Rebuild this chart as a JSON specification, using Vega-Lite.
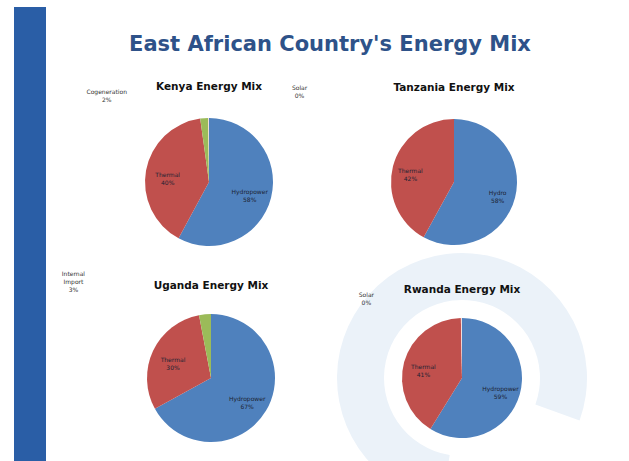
{
  "$schema": "https://vega.github.io/schema/vega-lite/v6.json",
  "background": "white",
  "padding": {"left": 14, "top": 7, "right": 0, "bottom": 0},
  "config": {"view": {"stroke": null}, "font": "DejaVu Sans"},
  "datasets": {
    "kenya": [
      {"source": "Hydropower", "kind": "hydro", "value": 58, "order": 1, "label": "Hydropower\n58%"},
      {"source": "Thermal", "kind": "thermal", "value": 40, "order": 2, "label": "Thermal\n40%"},
      {"source": "Cogeneration", "kind": "other", "value": 2, "order": 3, "label": "Cogeneration\n2%"},
      {"source": "Solar", "kind": "solar", "value": 0.2, "order": 4, "label": "Solar\n0%"}
    ],
    "tanzania": [
      {"source": "Hydro", "kind": "hydro", "value": 58, "order": 1, "label": "Hydro\n58%"},
      {"source": "Thermal", "kind": "thermal", "value": 42, "order": 2, "label": "Thermal\n42%"}
    ],
    "uganda": [
      {"source": "Hydropower", "kind": "hydro", "value": 67, "order": 1, "label": "Hydropower\n67%"},
      {"source": "Thermal", "kind": "thermal", "value": 30, "order": 2, "label": "Thermal\n30%"},
      {"source": "Import", "kind": "other", "value": 3, "order": 3, "label": "Internal\nImport\n3%"}
    ],
    "rwanda": [
      {"source": "Hydropower", "kind": "hydro", "value": 59, "order": 1, "label": "Hydropower\n59%"},
      {"source": "Thermal", "kind": "thermal", "value": 41, "order": 2, "label": "Thermal\n41%"},
      {"source": "Solar", "kind": "solar", "value": 0.3, "order": 3, "label": "Solar\n0%"}
    ],
    "bar": [{"name": "bar"}],
    "watermark": [{"name": "logo"}],
    "heading": [{"title": "East African Country's Energy Mix"}],
    "none": []
  },
  "bounds": "flush",
  "align": "each",
  "columns": 3,
  "spacing": {"row": 0, "column": 92},
  "concat": [
    {"data": {"name": "bar"}, "width": 32, "height": 100, "mark": {"type": "rect", "color": "#2A5EA6"}, "encoding": {}},
    {
      "data": {"name": "heading"},
      "width": 146,
      "height": 100,
      "mark": {"type": "text", "fontSize": 21, "fontWeight": "bold", "color": "#2E5289", "align": "center", "baseline": "middle", "dx": 119, "dy": -12},
      "encoding": {"text": {"field": "title", "type": "nominal"}}
    },
    {"data": {"name": "none"}, "width": 10, "height": 1, "mark": "point"},

    {"data": {"name": "bar"}, "width": 32, "height": 150, "mark": {"type": "rect", "color": "#2A5EA6"}, "encoding": {}},
    {
      "data": {"name": "kenya"},
      "width": 142, "height": 150,
      "title": {"text": "Kenya Energy Mix", "fontSize": 10.5, "fontWeight": "bold", "color": "#111", "offset": -7},
      "encoding": {
        "theta": {"field": "value", "type": "quantitative", "stack": true},
        "order": {"field": "order", "type": "quantitative"},
        "detail": {"field": "kind", "type": "nominal"}
      },
      "layer": [
        {"mark": {"type": "arc", "outerRadius": 64},
         "encoding": {"color": {"field": "kind", "type": "nominal", "legend": null,
           "scale": {"domain": ["hydro", "thermal", "other", "solar"], "range": ["#4F81BD", "#C0504D", "#9BBB59", "#F2DCDB"]}}}},
        {"mark": {"type": "text", "radius": 42, "fontSize": 6, "lineBreak": "\n", "color": "#1c2333"},
         "encoding": {"text": {"condition": {"test": "datum.value >= 10", "field": "label"}, "value": ""}}},
        {"mark": {"type": "text", "radius": 70, "fontSize": 6, "lineBreak": "\n", "color": "#333", "dx": -97, "dy": -20},
         "encoding": {"text": {"condition": {"test": "datum.source === 'Cogeneration'", "field": "label"}, "value": ""}}},
        {"mark": {"type": "text", "radius": 70, "fontSize": 6, "lineBreak": "\n", "color": "#333", "dx": 91, "dy": -24},
         "encoding": {"text": {"condition": {"test": "datum.source === 'Solar'", "field": "label"}, "value": ""}}}
      ]
    },
    {
      "data": {"name": "tanzania"},
      "width": 156, "height": 150,
      "title": {"text": "Tanzania Energy Mix", "fontSize": 10.5, "fontWeight": "bold", "color": "#111", "offset": 14},
      "encoding": {
        "theta": {"field": "value", "type": "quantitative", "stack": true},
        "order": {"field": "order", "type": "quantitative"},
        "detail": {"field": "kind", "type": "nominal"}
      },
      "layer": [
        {"mark": {"type": "arc", "outerRadius": 63},
         "encoding": {"color": {"field": "kind", "type": "nominal", "legend": null,
           "scale": {"domain": ["hydro", "thermal", "other", "solar"], "range": ["#4F81BD", "#C0504D", "#9BBB59", "#F2DCDB"]}}}},
        {"mark": {"type": "text", "radius": 45, "fontSize": 6, "lineBreak": "\n", "color": "#1c2333"},
         "encoding": {"text": {"field": "label"}}}
      ]
    },

    {"data": {"name": "bar"}, "width": 32, "height": 46, "mark": {"type": "rect", "color": "#2A5EA6"}, "encoding": {}},
    {"data": {"name": "none"}, "width": 10, "height": 1, "mark": "point"},
    {"data": {"name": "none"}, "width": 10, "height": 1, "mark": "point"},

    {"data": {"name": "bar"}, "width": 32, "height": 150, "mark": {"type": "rect", "color": "#2A5EA6"}, "encoding": {}},
    {
      "data": {"name": "uganda"},
      "width": 146, "height": 150,
      "title": {"text": "Uganda Energy Mix", "fontSize": 10.5, "fontWeight": "bold", "color": "#111", "offset": -20},
      "encoding": {
        "theta": {"field": "value", "type": "quantitative", "stack": true},
        "order": {"field": "order", "type": "quantitative"},
        "detail": {"field": "kind", "type": "nominal"}
      },
      "layer": [
        {"mark": {"type": "arc", "outerRadius": 64},
         "encoding": {"color": {"field": "kind", "type": "nominal", "legend": null,
           "scale": {"domain": ["hydro", "thermal", "other", "solar"], "range": ["#4F81BD", "#C0504D", "#9BBB59", "#F2DCDB"]}}}},
        {"mark": {"type": "text", "radius": 42, "fontSize": 6, "lineBreak": "\n", "color": "#1c2333"},
         "encoding": {"text": {"condition": {"test": "datum.value >= 10", "field": "label"}, "value": ""}}},
        {"mark": {"type": "text", "radius": 70, "fontSize": 6, "lineBreak": "\n", "color": "#333", "dx": -131, "dy": -34},
         "encoding": {"text": {"condition": {"test": "datum.source === 'Import'", "field": "label"}, "value": ""}}}
      ]
    },
    {
      "data": {"name": "rwanda"},
      "width": 172, "height": 150,
      "title": {"text": "Rwanda Energy Mix", "fontSize": 10.5, "fontWeight": "bold", "color": "#111", "offset": -42},
      "layer": [
        {"data": {"name": "watermark"},
         "mark": {"type": "arc", "theta": 3.3, "theta2": 8.2, "innerRadius": 78, "outerRadius": 125, "color": "#EBF2F9"},
         "encoding": {}},
        {"mark": {"type": "arc", "outerRadius": 60},
         "encoding": {
           "theta": {"field": "value", "type": "quantitative", "stack": true},
           "order": {"field": "order", "type": "quantitative"},
           "color": {"field": "kind", "type": "nominal", "legend": null,
           "scale": {"domain": ["hydro", "thermal", "other", "solar"], "range": ["#4F81BD", "#C0504D", "#9BBB59", "#F2DCDB"]}}}},
        {"mark": {"type": "text", "radius": 40, "fontSize": 6, "lineBreak": "\n", "color": "#1c2333"},
         "encoding": {
           "theta": {"field": "value", "type": "quantitative", "stack": true},
           "order": {"field": "order", "type": "quantitative"},
           "detail": {"field": "kind", "type": "nominal"},
           "text": {"condition": {"test": "datum.value >= 10", "field": "label"}, "value": ""}}},
        {"mark": {"type": "text", "radius": 66, "fontSize": 6, "lineBreak": "\n", "color": "#333", "dx": -95, "dy": -17},
         "encoding": {
           "theta": {"field": "value", "type": "quantitative", "stack": true},
           "order": {"field": "order", "type": "quantitative"},
           "detail": {"field": "kind", "type": "nominal"},
           "text": {"condition": {"test": "datum.source === 'Solar'", "field": "label"}, "value": ""}}}
      ]
    },

    {"data": {"name": "bar"}, "width": 32, "height": 8, "mark": {"type": "rect", "color": "#2A5EA6"}, "encoding": {}},
    {"data": {"name": "none"}, "width": 10, "height": 1, "mark": "point"},
    {"data": {"name": "none"}, "width": 10, "height": 1, "mark": "point"}
  ]
}
